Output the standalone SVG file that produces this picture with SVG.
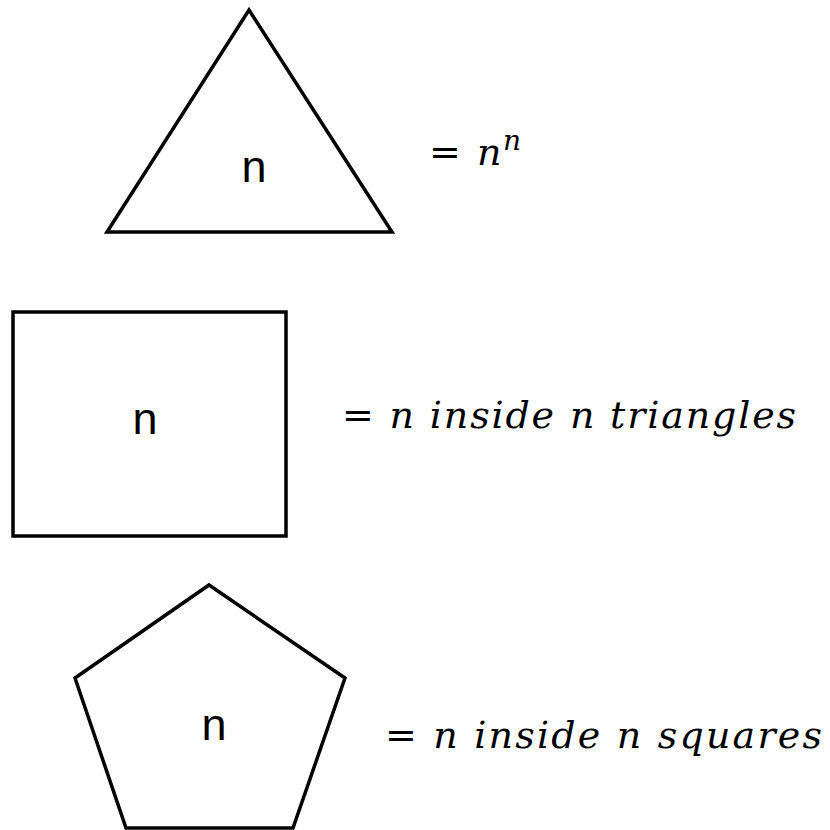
<svg xmlns="http://www.w3.org/2000/svg" width="830" height="830" viewBox="0 0 830 830">
<style>
.shape{fill:#fff;stroke:#000;stroke-width:3.5;stroke-linejoin:miter}
.lbl{font-family:"Liberation Sans",Arial,sans-serif;font-size:45px;fill:#000;text-anchor:middle}
.eq{font-family:"DejaVu Serif","Liberation Serif",serif;font-size:38px;fill:#000}
.it{font-style:italic}
</style>
<rect width="830" height="830" fill="#fff"/>
<g id="triangle">
<polygon class="shape" points="249,10 392,232 107,232"/>
<text class="lbl" x="254" y="182">n</text>
</g>
<g id="eq1">
<text class="eq" x="429" y="165">=</text>
<text class="eq it" x="477" y="165">n</text>
<text class="eq it" x="503" y="150" style="font-size:28px">n</text>
</g>
<g id="rectangle">
<rect class="shape" x="13" y="312" width="273" height="224"/>
<text class="lbl" x="145" y="434">n</text>
</g>
<g id="eq2">
<text class="eq" x="342" y="428" textLength="454" lengthAdjust="spacing"><tspan>=</tspan><tspan class="it"> n inside n triangles</tspan></text>
</g>
<g id="pentagon">
<polygon class="shape" points="209,585 345,678 293,828 126,828 75,678"/>
<text class="lbl" x="214" y="740">n</text>
</g>
<g id="eq3">
<text class="eq" x="385" y="748" textLength="437" lengthAdjust="spacing"><tspan>=</tspan><tspan class="it"> n inside n squares</tspan></text>
</g>
</svg>
